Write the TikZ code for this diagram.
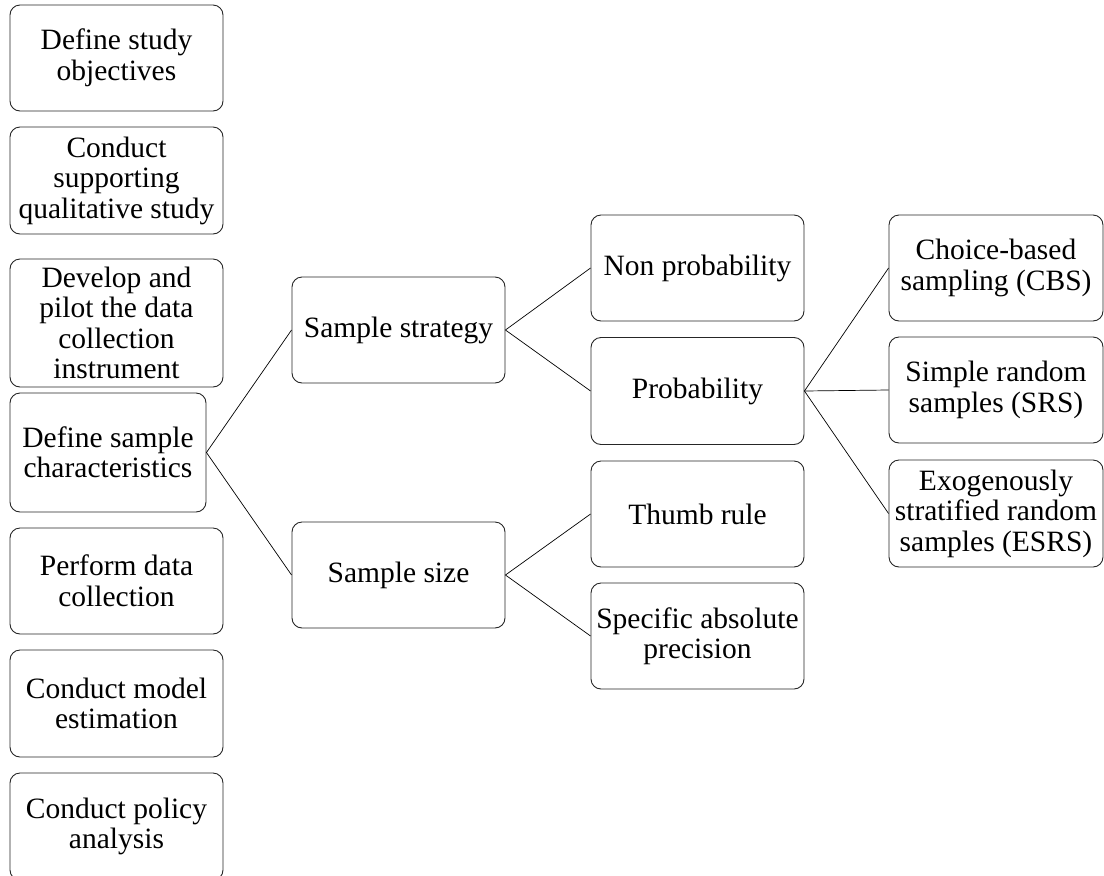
\documentclass[tikz,border=0pt]{standalone}
\usepackage{fontspec}
\setmainfont{Liberation Serif}
\begin{document}
\begin{tikzpicture}[x=1pt,y=-1pt,
  box/.style={draw=black!85, line width=0.9pt, rounded corners=10pt, rectangle,
    inner sep=0pt, align=center, minimum height=106pt, minimum width=213pt,
    font=\fontsize{29.5}{30.5}\selectfont},
  link/.style={draw=black, line width=0.7pt}]
\useasboundingbox (0,0) rectangle (1104,876);
% left column
\node[box] (b1) at (116.5,58) {Define study\\objectives};
\node[box, minimum height=107pt] (b2) at (116.5,180.5) {Conduct\\supporting\\qualitative study};
\node[box, minimum height=128pt] (b3) at (116.5,323) {Develop and\\pilot the data\\collection\\instrument};
\node[box, minimum width=196pt, minimum height=119pt] (b4) at (108,452.5) {Define sample\\characteristics};
\node[box] (b5) at (116.5,581) {Perform data\\collection};
\node[box, minimum height=107pt] (b6) at (116.5,703.5) {Conduct model\\estimation};
\node[box, minimum height=107pt] (b7) at (116.5,826.5) {Conduct policy\\analysis};
% middle
\node[box] (strat) at (398.5,330) {Sample strategy};
\node[box] (size) at (398.5,575) {Sample size};
% third column
\node[box] (nonp) at (697.5,268) {Non probability};
\node[box, minimum height=107pt] (prob) at (697.5,391) {Probability};
\node[box] (thumb) at (697.5,514) {Thumb rule};
\node[box] (spec) at (697.5,636) {Specific absolute\\precision};
% fourth column
\node[box, minimum width=214pt] (cbs) at (996,268) {Choice-based\\sampling (CBS)};
\node[box, minimum width=214pt] (srs) at (996,390) {Simple random\\samples (SRS)};
\node[box, minimum width=214pt, minimum height=107pt] (esrs) at (996,513.5) {Exogenously\\stratified random\\samples (ESRS)};
% connectors
\draw[link] (strat.west) -- (b4.east) -- (size.west);
\draw[link] (nonp.west) -- (strat.east) -- (prob.west);
\draw[link] (thumb.west) -- (size.east) -- (spec.west);
\draw[link] (prob.east) -- (cbs.west);
\draw[link] (prob.east) -- (srs.west);
\draw[link] (prob.east) -- (esrs.west);
\end{tikzpicture}
\end{document}
